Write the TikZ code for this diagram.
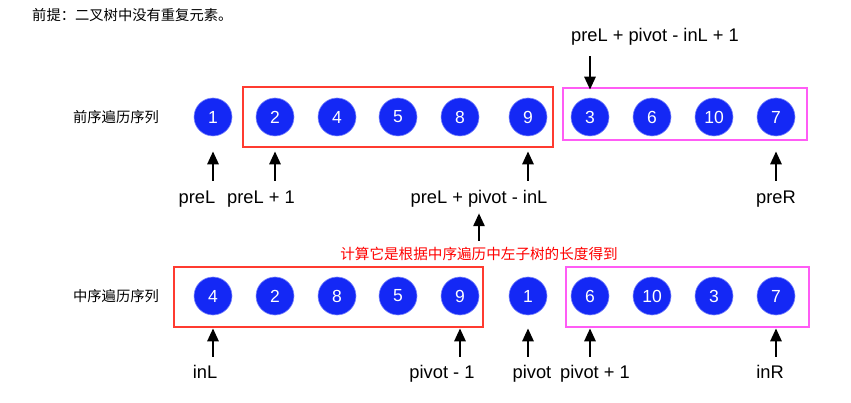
\documentclass[tikz,border=0pt]{standalone}
\usepackage{fontspec}
\setmainfont{Liberation Sans}
\newfontfamily\cjk{Noto Sans CJK SC}
\usepackage{xcolor}
\usetikzlibrary{arrows.meta}

\definecolor{ballblue}{HTML}{1428F5}
\definecolor{boxred}{HTML}{FF3B30}
\definecolor{boxpink}{HTML}{FF5CF5}

\tikzset{
  ball/.style={circle, fill=ballblue, draw=ballblue!55!white, line width=0.6pt,
    minimum size=38pt, inner sep=0pt, text=white, font=\fontsize{17.5}{17}\selectfont},
  lbl/.style={font=\fontsize{18.3}{20}\selectfont, inner sep=0pt,
    text height=13pt, text depth=4pt, anchor=base},
  cn/.style={font=\cjk\fontsize{14.3}{16}\selectfont, inner sep=0pt},
  ptr/.style={-{Triangle[length=13pt,width=11pt]}, line width=2.7pt, black}
}

\begin{document}
\begin{tikzpicture}[x=1pt,y=-1pt]
                \useasboundingbox (0,0) rectangle (851,403);
                % Title
                \node[cn, anchor=west] (title) at (32,15) {前提：二叉树中没有重复元素。};

                % Preorder sequence
                \node[cn] (preName) at (116,117) {前序遍历序列};
                \foreach \x/\v [count=\i] in {213/1,275/2,337/4,398/5,460/8,528/9,590/3,652/6,714/10,776/7}
                    \node[ball] (pre\i) at (\x,117) {\v};
                \draw[boxred, line width=2.5pt] (243,87) rectangle (553,147);
                \draw[boxpink, line width=2.5pt] (563,88) rectangle (807,140);

                % Preorder pointers
                \node[lbl] (preRoot) at (655,42) {preL + pivot - inL + 1};
                \draw[ptr, shorten <=10pt, shorten >=8pt] (pre7 |- preRoot.south) -- (pre7.north);
                \node[lbl] (preL) at (197,204) {preL};
                \node[lbl] (preLone) at (261,204) {preL + 1};
                \node[lbl] (preMid) at (479,204) {preL + pivot - inL};
                \node[lbl] (preR) at (776,204) {preR};
                \draw[ptr, shorten <=10pt, shorten >=15pt] (pre1 |- preL.north) -- (pre1.south);
                \draw[ptr, shorten <=10pt, shorten >=15pt] (pre2 |- preLone.north) -- (pre2.south);
                \draw[ptr, shorten <=10pt, shorten >=15pt] (pre6 |- preMid.north) -- (pre6.south);
                \draw[ptr, shorten <=10pt, shorten >=15pt] (pre10 |- preR.north) -- (pre10.south);

                % Note
                \node[cn, red, font=\cjk\fontsize{14.6}{16}\selectfont, text height=12pt, text depth=3pt, anchor=base]
                    (note) at (479,260) {计算它是根据中序遍历中左子树的长度得到};
                \draw[ptr, shorten <=7pt, shorten >=5pt] (note.north) -- (preMid.south);

                % Inorder sequence
                \node[cn] (inName) at (116,296) {中序遍历序列};
                \foreach \x/\v [count=\i] in {213/4,275/2,337/8,398/5,460/9,528/1,590/6,652/10,714/3,776/7}
                    \node[ball] (in\i) at (\x,296) {\v};
                \draw[boxred, line width=2.5pt] (174,267) rectangle (483,327);
                \draw[boxpink, line width=2.5pt] (566,267) rectangle (809,327);

                % Inorder pointers
                \node[lbl] (inL) at (205,378) {inL};
                \node[lbl] (pivLess) at (442,378) {pivot - 1};
                \node[lbl] (piv) at (532,378) {pivot};
                \node[lbl] (pivMore) at (595,378) {pivot + 1};
                \node[lbl] (inR) at (770,378) {inR};
                \draw[ptr, shorten <=8pt, shorten >=13pt] (in1 |- inL.north) -- (in1.south);
                \draw[ptr, shorten <=8pt, shorten >=13pt] (in5 |- pivLess.north) -- (in5.south);
                \draw[ptr, shorten <=8pt, shorten >=13pt] (in6 |- piv.north) -- (in6.south);
                \draw[ptr, shorten <=8pt, shorten >=13pt] (in7 |- pivMore.north) -- (in7.south);
                \draw[ptr, shorten <=8pt, shorten >=13pt] (in10 |- inR.north) -- (in10.south);
\end{tikzpicture}
\end{document}
